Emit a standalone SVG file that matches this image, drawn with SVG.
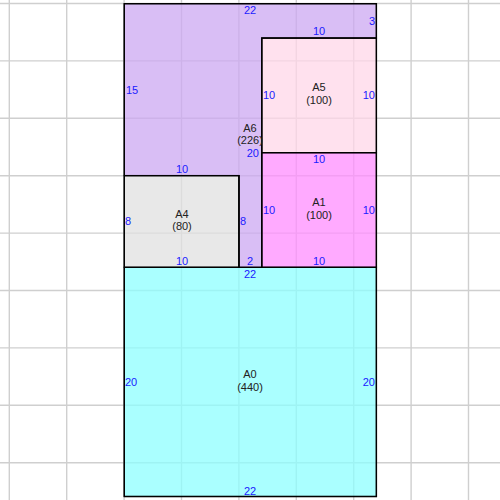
<svg xmlns="http://www.w3.org/2000/svg" width="500" height="500" viewBox="0 0 500 500">
<style>
.grid line{stroke:#cfcfcf;stroke-width:1.4}
.box{stroke:#000;stroke-width:1.3;fill-opacity:0.75}
.dim{font-family:"Liberation Sans",Arial,sans-serif;font-size:11px;fill:#1a1aff}
.lbl{font-family:"Liberation Sans",Arial,sans-serif;font-size:11px;fill:#222;text-anchor:middle}
.c{text-anchor:middle}
.e{text-anchor:end}
</style>
<rect width="500" height="500" fill="#fff"/>
<g class="grid">
<line x1="9.3" y1="0" x2="9.3" y2="500"/><line x1="66.7" y1="0" x2="66.7" y2="500"/><line x1="124.1" y1="0" x2="124.1" y2="500"/><line x1="181.5" y1="0" x2="181.5" y2="500"/><line x1="238.9" y1="0" x2="238.9" y2="500"/><line x1="296.3" y1="0" x2="296.3" y2="500"/><line x1="353.7" y1="0" x2="353.7" y2="500"/><line x1="411.1" y1="0" x2="411.1" y2="500"/><line x1="468.5" y1="0" x2="468.5" y2="500"/>
<line x1="0" y1="3.5" x2="500" y2="3.5"/><line x1="0" y1="60.9" x2="500" y2="60.9"/><line x1="0" y1="118.3" x2="500" y2="118.3"/><line x1="0" y1="175.7" x2="500" y2="175.7"/><line x1="0" y1="233.1" x2="500" y2="233.1"/><line x1="0" y1="290.5" x2="500" y2="290.5"/><line x1="0" y1="347.9" x2="500" y2="347.9"/><line x1="0" y1="405.3" x2="500" y2="405.3"/><line x1="0" y1="462.7" x2="500" y2="462.7"/>
</g>
<g id="A0"><rect class="box" x="124.3" y="267.3" width="252.1" height="229.2" fill="#8effff"/></g>
<g id="A6"><polygon class="box" points="124.3,3.7 376.4,3.7 376.4,38.1 261.8,38.1 261.8,267.3 238.9,267.3 238.9,175.6 124.3,175.6" fill="#cca8f2"/></g>
<g id="A5"><rect class="box" x="261.8" y="38.1" width="114.6" height="114.6" fill="#ffd7e8"/></g>
<g id="A1"><rect class="box" x="261.8" y="152.7" width="114.6" height="114.6" fill="#ff8eff"/></g>
<g id="A4"><rect class="box" x="124.3" y="175.6" width="114.6" height="91.7" fill="#e0e0e0"/></g>
<g fill="none" stroke="#000" stroke-width="1.3">
<rect x="124.3" y="3.7" width="252.1" height="492.8"/>
<polyline points="376.4,38.1 261.8,38.1 261.8,267.3"/>
<line x1="261.8" y1="152.7" x2="376.4" y2="152.7"/>
<polyline points="124.3,175.6 238.9,175.6 238.9,267.3"/>
<line x1="124.3" y1="267.3" x2="376.4" y2="267.3"/>
</g>
<g id="labels">
<text class="lbl" x="250" y="132">A6</text><text class="lbl" x="250" y="144">(226)</text>
<text class="lbl" x="319" y="91">A5</text><text class="lbl" x="319" y="104">(100)</text>
<text class="lbl" x="319" y="206">A1</text><text class="lbl" x="319" y="219">(100)</text>
<text class="lbl" x="182" y="218">A4</text><text class="lbl" x="182" y="230">(80)</text>
<text class="lbl" x="250" y="378">A0</text><text class="lbl" x="250" y="391">(440)</text>
</g>
<g id="dims">
<text class="dim c" x="250" y="14">22</text>
<text class="dim e" x="375" y="25">3</text>
<text class="dim c" x="319" y="35">10</text>
<text class="dim" x="126" y="94">15</text>
<text class="dim" x="263" y="99">10</text>
<text class="dim e" x="375" y="99">10</text>
<text class="dim e" x="259" y="157">20</text>
<text class="dim c" x="319" y="163">10</text>
<text class="dim c" x="182" y="173">10</text>
<text class="dim" x="125" y="225">8</text>
<text class="dim" x="240" y="225">8</text>
<text class="dim" x="263" y="214">10</text>
<text class="dim e" x="375" y="214">10</text>
<text class="dim c" x="182" y="265">10</text>
<text class="dim c" x="250" y="265">2</text>
<text class="dim c" x="319" y="265">10</text>
<text class="dim c" x="250" y="278">22</text>
<text class="dim" x="125" y="386">20</text>
<text class="dim e" x="375" y="386">20</text>
<text class="dim c" x="250" y="495">22</text>
</g>
</svg>
